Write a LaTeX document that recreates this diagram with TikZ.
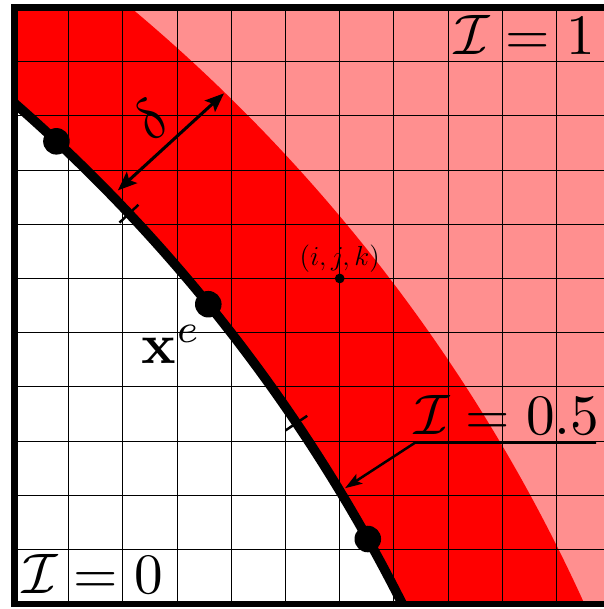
\documentclass[tikz,border=0pt]{standalone}
\usetikzlibrary{calc,arrows.meta}
\definecolor{lightred}{RGB}{255,143,143}
\definecolor{fullred}{RGB}{255,0,0}
\begin{document}
\begin{tikzpicture}[
  gridline/.style={line width=0.5pt, black},
  frame/.style={line width=3.2pt, black},
  iface/.style={line width=5pt, black},
  tickmark/.style={line width=1.3pt, black},
  bigdot/.style={circle, fill=black, inner sep=0pt, minimum size=0.49cm},
  smalldot/.style={circle, fill=black, inner sep=0pt, minimum size=0.18cm},
  biglabel/.style={font=\normalsize, scale=3, inner sep=0pt},
  smalllabel/.style={font=\Large, inner sep=0pt},
  deltaarrow/.style={line width=1.6pt, {Stealth[length=10pt,width=8pt,inset=2pt]}-{Stealth[length=10pt,width=8pt,inset=2pt]}},
  pinline/.style={line width=1.3pt, -{Stealth[length=9pt,width=6pt,inset=2pt]}},
]
\useasboundingbox (-0.2675,-0.098) rectangle (10.876,11.138);
% centres of the inner (I=0.5) and outer (I=1) boundaries
\coordinate (Oi) at (-20.04,-13.68);
\coordinate (Oo) at (-17.747,-12.808);
\begin{scope}
  \clip (0,0) rectangle (11,11);
  \fill[lightred] (0,0) rectangle (11,11);
  \fill[fullred] (Oo) circle[radius=31.02];
  \fill[white] (Oi) circle[radius=30.44];
  \draw[gridline] (0,0) grid (11,11);
  \draw[iface] ($(Oi)+(55:30.44)$) arc[start angle=55, end angle=20, radius=30.44];
\end{scope}
% ticks
\draw[tickmark] ($(Oi)+(43.3:30.2)$) -- ($(Oi)+(43.3:30.68)$);
\draw[tickmark] ($(Oi)+(33.98:30.2)$) -- ($(Oi)+(33.98:30.68)$);
% element nodes
\node[bigdot] (d1) at ($(Oi)+(46.86:30.44)$) {};
\node[bigdot] (d2) at ($(Oi)+(39.12:30.44)$) {};
\node[bigdot] (d3) at ($(Oi)+(29.25:30.44)$) {};
% frame
\draw[frame] (0,0) rectangle (11,11);
% delta arrow
\coordinate (da) at ($(Oi)+(44.15:30.59)$);
\coordinate (db) at ($(Oo)+(45.8:31.0)$);
\draw[deltaarrow] (da) -- node[sloped, above, biglabel, inner sep=1pt] (dlab) {$\delta$} (db);
% I = 0.5 pin
\coordinate (pa) at ($(Oi)+(31.17:30.55)$);
\coordinate (u1) at (7.39,2.97);
\coordinate (u2) at (10.73,2.97);
\node[biglabel, anchor=base west] (lab05) at (7.36,3.13) {$\mathcal{I}=0.5$};
\draw[pinline] (u2) -- (u1) -- (pa);
% labels
\node[biglabel, anchor=base west] (lab1) at (8.10,10.124) {$\mathcal{I}=1$};
\node[biglabel, anchor=base west] (lab0) at (0.13,0.19) {$\mathcal{I}=0$};
\node[biglabel, anchor=base west] (labx) at (2.33,4.44) {$\mathbf{x}^e$};
\node[smalldot] (ijk) at (6,6) {};
\node[smalllabel, anchor=base] (ijklab) at (6,6.238) {$(i,j,k)$};
\end{tikzpicture}
\end{document}
